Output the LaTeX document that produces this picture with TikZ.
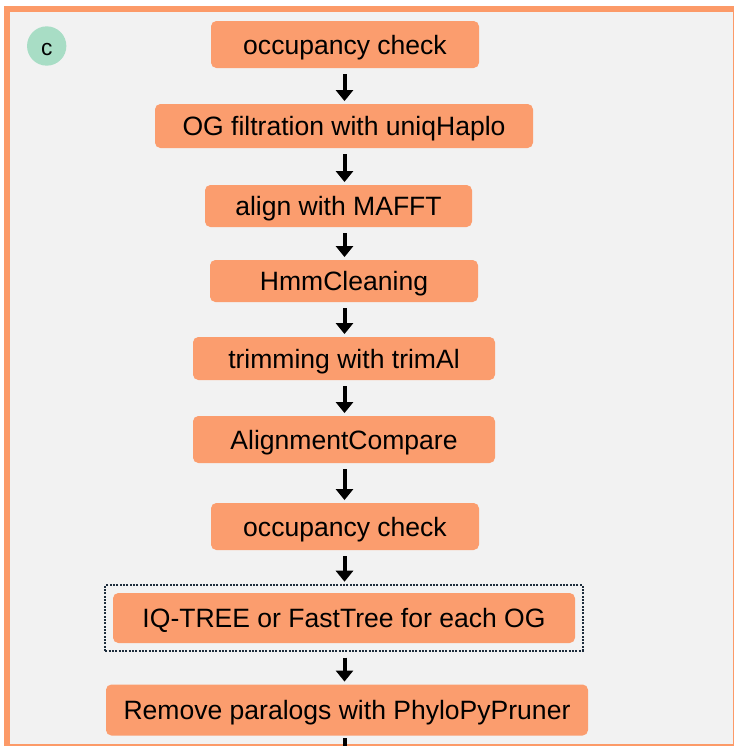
\documentclass[tikz,border=0pt]{standalone}
\usepackage{fontspec}
\setmainfont{Liberation Sans}
\usetikzlibrary{arrows.meta,fit}
\definecolor{panelgray}{RGB}{242,242,242}
\definecolor{frameorange}{RGB}{252,154,104}
\definecolor{boxorange}{RGB}{251,157,110}
\definecolor{tagmint}{RGB}{168,221,197}
\definecolor{dotnavy}{RGB}{30,45,60}
\tikzset{
  stepbox/.style={rectangle, rounded corners=4pt, fill=boxorange, inner sep=0pt,
    text height=18.9pt, text depth=4.2pt, font=\fontsize{19.9}{24}\selectfont},
  flowarrow/.style={line width=3pt, -{Triangle[width=12.75pt,length=8.25pt]},
    shorten <=4.5pt, shorten >=2pt},
}

\begin{document}
\begin{tikzpicture}[x=0.75pt,y=0.75pt,yscale=-1,xscale=1]
\useasboundingbox (0,0) rectangle (734,746);

%Panel frame
\draw [draw=frameorange, fill=panelgray, line width=4.5pt] (7,9) rectangle (736,747);

%Panel tag
\node (tag) [circle, fill=tagmint, minimum size=29.5pt, inner sep=0pt,
  text height=13.5pt, text depth=0pt, font=\fontsize{17}{20}\selectfont] at (46.7,46) {c};

% Steps
\node (occA) [stepbox, minimum width=201pt, minimum height=35.25pt] at (345,44.5) {occupancy check};
\node (uniq) [stepbox, minimum width=283.5pt, minimum height=33pt] at (344,126) {OG filtration with uniqHaplo};
\node (mafft) [stepbox, minimum width=200.25pt, minimum height=31.5pt] at (338.5,206) {align with MAFFT};
\node (hmm) [stepbox, minimum width=201pt, minimum height=31.5pt] at (344,281) {HmmCleaning};
\node (trim) [stepbox, minimum width=226.5pt, minimum height=32.25pt] at (344,358.5) {trimming with trimAl};
\node (compare) [stepbox, minimum width=226.5pt, minimum height=35.25pt] at (344,439.5) {AlignmentCompare};
\node (occB) [stepbox, minimum width=201pt, minimum height=35.25pt] at (345,526.5) {occupancy check};
\node (tree) [stepbox, minimum width=346.5pt, minimum height=37.5pt] at (344,618) {IQ-TREE or FastTree for each OG};
\node (pruner) [stepbox, minimum width=361.5pt, minimum height=38.25pt] at (347,710) {Remove paralogs with PhyloPyPruner};

% dotted frame round the tree step
\node (treeframe) [fit=(tree), draw=dotnavy, line width=1.5pt, dash pattern=on 1.5pt off 1pt,
  inner sep=5.5pt] {};

\coordinate (spine) at (344.5,0);
\coordinate (out) at (344.5,790);

% Connectors
\foreach \a/\b in {occA/uniq, uniq/mafft, mafft/hmm, hmm/trim, trim/compare, compare/occB, occB/treeframe, treeframe/pruner}
  \draw [flowarrow] (\a.south -| spine) -- (\b.north -| spine);
\draw [line width=3pt, shorten <=2pt] (pruner.south -| spine) -- (out);

\end{tikzpicture}
\end{document}
